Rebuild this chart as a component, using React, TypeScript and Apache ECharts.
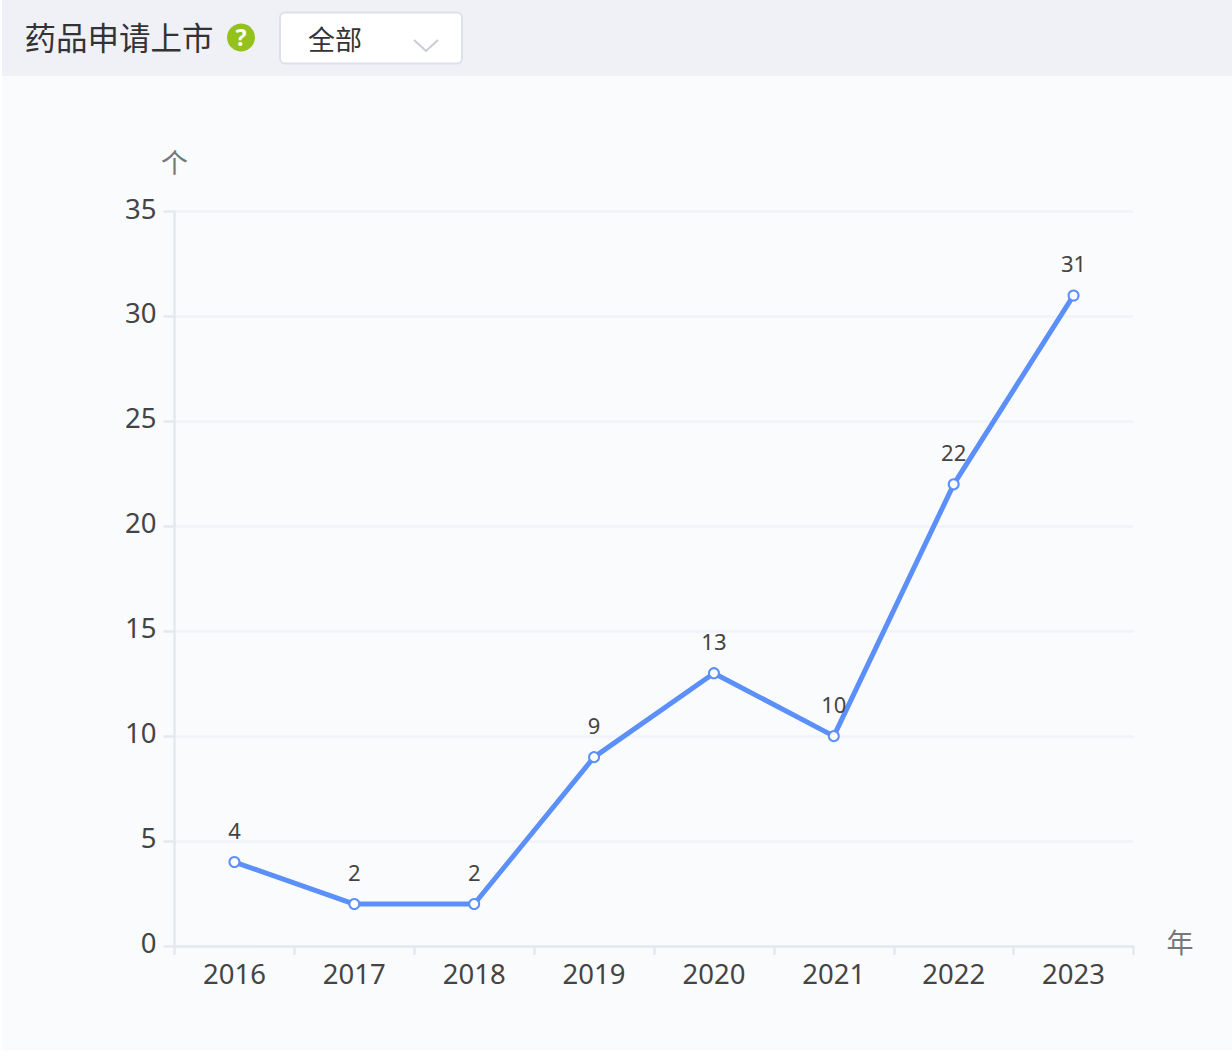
import React, { useEffect, useRef } from "react";
import * as echarts from "echarts";

const title = "药品申请上市";
const selectLabel = "全部";
const helpMark = "?";
const yUnit = "个";
const xUnit = "年";
const years = ["2016", "2017", "2018", "2019", "2020", "2021", "2022", "2023"];
const counts = [4, 2, 2, 9, 13, 10, 22, 31];

const FONT = '"Noto Sans", "Noto Sans CJK SC", sans-serif';
const CJK = '"Noto Sans CJK SC", sans-serif';

export default function App() {
  const ref = useRef<HTMLDivElement>(null);
  useEffect(() => {
    const chart = echarts.init(ref.current!, undefined, { renderer: "svg" });
    chart.setOption({
      animation: false,
      backgroundColor: "#ffffff",
      grid: { left: 174.5, top: 211.5, width: 959, height: 734.5, containLabel: false },
      graphic: [
        { type: "rect", z: -10, silent: true, shape: { x: 2, y: 76, width: 1230, height: 974 }, style: { fill: "#fafbfd" } },
        { type: "rect", z: -10, silent: true, shape: { x: 2, y: 0, width: 1230, height: 76 }, style: { fill: "#eff1f6" } },
        { type: "text", x: 24.5, y: 36, style: { text: title, font: `400 31.5px ${CJK}`, fill: "#333333", textVerticalAlign: "middle" } },
        { type: "circle", shape: { cx: 241, cy: 37.5, r: 14 }, style: { fill: "#95c11f" } },
        { type: "text", x: 241, y: 37, style: { text: helpMark, font: `700 23px ${FONT}`, fill: "#ffffff", textAlign: "center", textVerticalAlign: "middle" } },
        { type: "rect", shape: { x: 280, y: 12.5, width: 182, height: 51, r: 5 }, style: { fill: "#ffffff", stroke: "#dde0e9", lineWidth: 2 } },
        { type: "text", x: 308, y: 38, style: { text: selectLabel, font: `400 27px ${CJK}`, fill: "#333333", textVerticalAlign: "middle" } },
        { type: "polyline", shape: { points: [[414, 40], [426, 51], [438, 40]] }, style: { stroke: "#c9ccd4", lineWidth: 2, fill: "none" } },
      ],
      xAxis: {
        type: "category",
        data: years,
        boundaryGap: true,
        name: xUnit,
        nameLocation: "end",
        nameGap: 33,
        nameTextStyle: { fontFamily: CJK, fontSize: 27, color: "#777777", verticalAlign: "bottom", lineHeight: 9 },
        axisLine: { show: true, lineStyle: { color: "#e4e9f0", width: 2.5 } },
        axisTick: { show: true, length: 9, alignWithLabel: false, lineStyle: { color: "#e4e9f0", width: 2.5 } },
        axisLabel: { fontFamily: FONT, fontSize: 27.5, color: "#444444", margin: 14 },
        splitLine: { show: false },
      },
      yAxis: {
        type: "value",
        min: 0,
        max: 35,
        interval: 5,
        name: yUnit,
        nameLocation: "end",
        nameGap: 37,
        nameTextStyle: { fontFamily: CJK, fontSize: 27, color: "#777777", align: "center" },
        axisLine: { show: true, lineStyle: { color: "#e4e9f0", width: 2.5 } },
        axisTick: { show: true, length: 11, lineStyle: { color: "#e4e9f0", width: 2.5 } },
        axisLabel: { fontFamily: FONT, fontSize: 27.5, color: "#444444", margin: 18, verticalAlign: "bottom", lineHeight: 7 },
        splitLine: { show: true, lineStyle: { color: "#f1f3f8", width: 2.5 } },
      },
      series: [
        {
          type: "line",
          data: counts,
          smooth: false,
          symbol: "circle",
          symbolSize: 10,
          showAllSymbol: true,
          lineStyle: { color: "#5b8ff9", width: 5 },
          itemStyle: { color: "#ffffff", borderColor: "#5b8ff9", borderWidth: 2 },
          label: { show: true, position: "top", distance: 15, fontFamily: FONT, fontSize: 22, color: "#444444" },
        },
      ],
    });
    return () => chart.dispose();
  }, []);
  return (
    <div style={{ position: "absolute", left: 0, top: 0, width: 1232, height: 1052 }}>
      <div ref={ref} style={{ width: 1232, height: 1052 }} />
    </div>
  );
}
